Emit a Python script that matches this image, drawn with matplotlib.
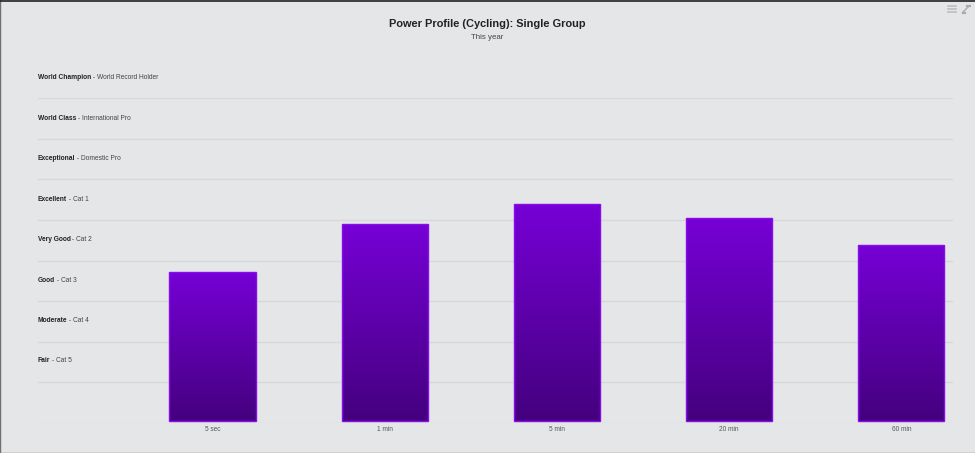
#!/usr/bin/env python3
"""Power profile bar chart with gradient bars"""

import matplotlib
matplotlib.use('Agg')
import matplotlib.pyplot as plt
import numpy as np
from matplotlib.colors import LinearSegmentedColormap
from matplotlib.lines import Line2D

plt.rcParams['font.family'] = ['Liberation Sans', 'DejaVu Sans']

categories = ['5 sec', '1 min', '5 min', '20 min', '60 min']
levels = [3.72, 4.89, 5.38, 5.05, 4.38]
level_names = ['Fair', 'Moderate', 'Good', 'Very Good', 'Excellent',
               'Exceptional', 'World Class', 'World Champion']
level_notes = ['Cat 5', 'Cat 4', 'Cat 3', 'Cat 2', 'Cat 1',
               'Domestic Pro', 'International Pro', 'World Record Holder']

W, H = 975, 453
BG = '#e4e6e7'
GRID = '#d6d8d9'
BASE = 0.05


def fx(px):
    return px / W


def fy(py):
    return 1 - py / H


def plot_profile():
    fig = plt.figure(figsize=(W / 100, H / 100), dpi=100, facecolor=BG)
    ax = fig.add_axes([fx(37.5), fy(423), (953 - 37.5) / W, (423 - 98) / H])
    ax.set_facecolor('none')

    ax.set_xlim((37.5 - 212.5) / 172.2, (953 - 212.5) / 172.2)
    ax.set_ylim(0, 8)
    for s in ax.spines.values():
        s.set_visible(False)
    ax.set_yticks(range(9))
    ax.set_yticklabels([])
    ax.tick_params(axis='both', length=0)
    ax.grid(True, axis='y', color=GRID, lw=1)
    ax.set_axisbelow(True)

    # bars with a vertical gradient clipped to each bar
    cmap = LinearSegmentedColormap.from_list('bar', ['#44007e', '#7600d6'])
    grad = np.linspace(0, 1, 256).reshape(-1, 1)
    x = np.arange(len(categories))
    bars = ax.bar(x, np.array(levels) - BASE, 0.5, bottom=BASE, facecolor='none',
                  edgecolor='#8a0cee', linewidth=1, zorder=3)
    for b in bars:
        x0, w = b.get_x(), b.get_width()
        im = ax.imshow(grad, cmap=cmap, origin='lower', aspect='auto', zorder=2,
                       extent=(x0, x0 + w, BASE, BASE + b.get_height()))
        im.set_clip_path(b)
    ax.set_xlim((37.5 - 212.5) / 172.2, (953 - 212.5) / 172.2)
    ax.set_ylim(0, 8)

    ax.set_xticks(x)
    ax.set_xticklabels(categories, fontsize=4.7, color='#555555')
    ax.tick_params(axis='x', pad=2.5)

    # band labels: bold name, then the note right after it
    fig.canvas.draw()
    renderer = fig.canvas.get_renderer()
    for i, (name, note) in enumerate(zip(level_names, level_notes)):
        y = fy(361 - i * 40.45)
        t = fig.text(fx(37.5), y, name, fontsize=4.8, fontweight='bold',
                     color='#222222', va='center')
        right = t.get_window_extent(renderer).x1
        fig.text(right / W, y, ' - ' + note, fontsize=4.8, color='#444444', va='center')

    fig.text(0.5, fy(24), 'Power Profile (Cycling): Single Group', fontsize=7.95,
             fontweight='bold', color='#222222', ha='center', va='center')
    fig.text(0.5, fy(37.5), 'This year', fontsize=5.7, color='#444444',
             ha='center', va='center')

    # panel border and top strip
    fig.add_artist(Line2D([fx(0.2)] * 2, [0, 1], color='#6f7071', lw=1))
    fig.add_artist(Line2D([fx(974.5)] * 2, [0, 1], color='#8a8b8c', lw=0.7))
    fig.add_artist(Line2D([0, 1], [fy(0.7)] * 2, color='#222222', lw=1.2))
    fig.add_artist(Line2D([0, 1], [fy(452.5)] * 2, color='#77787a', lw=1))

    # menu and expand icons
    for py in (5.5, 8.5, 11.5):
        fig.add_artist(Line2D([fx(948), fx(956)], [fy(py)] * 2, color='#bcbebf', lw=1.2))
    fig.add_artist(Line2D([fx(963), fx(969)], [fy(12), fy(6)], color='#a9abac', lw=1))
    fig.add_artist(Line2D([fx(962.5), fx(965)], [fy(12.5), fy(12.5)], color='#a9abac', lw=1.6))
    fig.add_artist(Line2D([fx(967), fx(969.5)], [fy(5.5), fy(5.5)], color='#a9abac', lw=1.6))

    fig.savefig('out.png', dpi=100, facecolor=BG)


if __name__ == "__main__":
    plot_profile()
